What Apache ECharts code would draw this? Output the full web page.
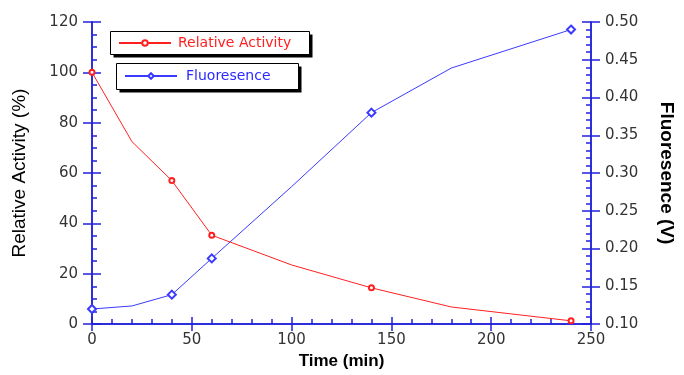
<!DOCTYPE html>
<html>
<head>
<meta charset="utf-8">
<script src="https://cdn.jsdelivr.net/npm/echarts@6/dist/echarts.min.js"></script>
<style>
  html, body { margin: 0; padding: 0; background: #fff; }
  #myChart { width: 684px; height: 375px; }
</style>
</head>
<body>
<div id="myChart"></div>
<script>
  // time points (min) and values
  const timeMin = [0, 20, 40, 60, 100, 140, 180, 240];
  const activity = [100, 72.5, 57, 35.3, 23.5, 14.4, 6.8, 1.3];
  const fluorescence = [0.12, 0.124, 0.139, 0.187, 0.282, 0.38, 0.439, 0.49];
  // which points carry a marker (the others are just line bends)
  const marked = [true, false, true, true, false, true, false, true];

  const axisBlue = '#2222dd';
  const labelFont = { color: '#333', fontFamily: 'DejaVu Sans', fontSize: 15 };
  const titleFont = { color: '#000', fontFamily: 'Liberation Sans Narrow, Liberation Sans', fontSize: 19 };

  function points(ys) {
    return timeMin.map(function (t, i) {
      let item = { value: [t, ys[i]] };
      if (!marked[i]) item.symbol = 'none';
      return item;
    });
  }

  // legend box with a hard black drop shadow
  function legendBox(x, y, w, h) {
    return [
      { type: 'rect', shape: { x: x + 3, y: y + 3, width: w, height: h }, style: { fill: '#000' }, z: 1 },
      { type: 'rect', shape: { x: x, y: y, width: w, height: h }, style: { fill: '#fff', stroke: '#000', lineWidth: 1 }, z: 2 }
    ];
  }

  let myChart = echarts.init(document.getElementById('myChart'));
  let option = {
    animation: false,
    grid: { left: 92, right: 82, top: 22, bottom: 45 },
    graphic: legendBox(110.5, 31.5, 199, 23).concat(legendBox(116.5, 63.5, 182, 26)),
    legend: [
      {
        data: ['Relative Activity'],
        left: 118, top: 36, padding: 0, z: 10,
        itemWidth: 52, itemHeight: 7, itemGap: 0,
        textStyle: { color: '#ff2020', fontFamily: 'DejaVu Sans', fontSize: 14, padding: [0, 0, 0, 2] }
      },
      {
        data: ['Fluoresence'],
        left: 124, top: 69, padding: 0, z: 10,
        itemWidth: 52, itemHeight: 7, itemGap: 0,
        textStyle: { color: '#2a2aff', fontFamily: 'DejaVu Sans', fontSize: 14, padding: [0, 0, 0, 4] }
      }
    ],
    xAxis: [
      {
        type: 'value', min: 0, max: 250, interval: 50,
        name: 'Time (min)', nameLocation: 'middle', nameGap: 27,
        nameTextStyle: { color: '#000', fontFamily: 'Liberation Sans', fontSize: 17, fontWeight: 'bold' },
        axisLine: { lineStyle: { color: axisBlue, width: 1.5 } },
        axisTick: { length: 7, lineStyle: { color: axisBlue, width: 1.5 } },
        axisLabel: Object.assign({ margin: 9 }, labelFont),
        splitLine: { show: false }
      },
      {
        type: 'value', min: 0, max: 250, interval: 50, position: 'bottom',
        axisLine: { lineStyle: { color: axisBlue, width: 1.5 } },
        axisTick: { inside: true, length: 7, lineStyle: { color: axisBlue, width: 1.5 } },
        minorTick: { show: true, splitNumber: 5, length: 5, lineStyle: { color: axisBlue, width: 1.5 } },
        axisLabel: { show: false },
        splitLine: { show: false }
      }
    ],
    yAxis: [
      {
        type: 'value', min: 0, max: 120, interval: 20, position: 'left',
        name: 'Relative Activity (%)', nameLocation: 'middle', nameRotate: 90, nameGap: 63,
        nameTextStyle: titleFont,
        axisLine: { show: true, lineStyle: { color: axisBlue, width: 1.5 } },
        axisTick: { show: true, length: 9, lineStyle: { color: axisBlue, width: 1.5 } },
        axisLabel: Object.assign({ margin: 14 }, labelFont),
        splitLine: { show: false }
      },
      {
        type: 'value', min: 0, max: 120, interval: 20, position: 'left',
        axisLine: { show: true, lineStyle: { color: axisBlue, width: 1.5 } },
        axisTick: { show: true, inside: true, length: 9, lineStyle: { color: axisBlue, width: 1.5 } },
        minorTick: { show: true, splitNumber: 4, length: 5, lineStyle: { color: axisBlue, width: 1.5 } },
        axisLabel: { show: false },
        splitLine: { show: false }
      },
      {
        type: 'value', min: 0.1, max: 0.5, interval: 0.05, position: 'right',
        name: 'Fluoresence (V)', nameLocation: 'middle', nameRotate: -90, nameGap: 66,
        nameTextStyle: Object.assign({}, titleFont, { fontWeight: 'bold' }),
        axisLine: { show: true, lineStyle: { color: axisBlue, width: 1.5 } },
        axisTick: { show: true, length: 9, lineStyle: { color: axisBlue, width: 1.5 } },
        axisLabel: Object.assign({ margin: 14, formatter: function (v) { return v.toFixed(2); } }, labelFont),
        splitLine: { show: false }
      },
      {
        type: 'value', min: 0.1, max: 0.5, interval: 0.05, position: 'right',
        axisLine: { show: true, lineStyle: { color: axisBlue, width: 1.5 } },
        axisTick: { show: true, inside: true, length: 9, lineStyle: { color: axisBlue, width: 1.5 } },
        minorTick: { show: true, splitNumber: 5, length: 5, lineStyle: { color: axisBlue, width: 1.5 } },
        axisLabel: { show: false },
        splitLine: { show: false }
      }
    ],
    series: [
      {
        name: 'Relative Activity', type: 'line',
        xAxisIndex: 0, yAxisIndex: 0,
        symbol: 'emptyCircle', symbolSize: 5,
        lineStyle: { color: '#ff2020', width: 1 },
        itemStyle: { color: '#ff2020', borderWidth: 2 },
        data: points(activity)
      },
      {
        name: 'Fluoresence', type: 'line',
        xAxisIndex: 0, yAxisIndex: 2,
        symbol: 'emptyDiamond', symbolSize: 8,
        lineStyle: { color: '#3a3aff', width: 1 },
        itemStyle: { color: '#3a3aff', borderWidth: 1 },
        data: points(fluorescence)
      }
    ]
  };
  myChart.setOption(option);
</script>
</body>
</html>
